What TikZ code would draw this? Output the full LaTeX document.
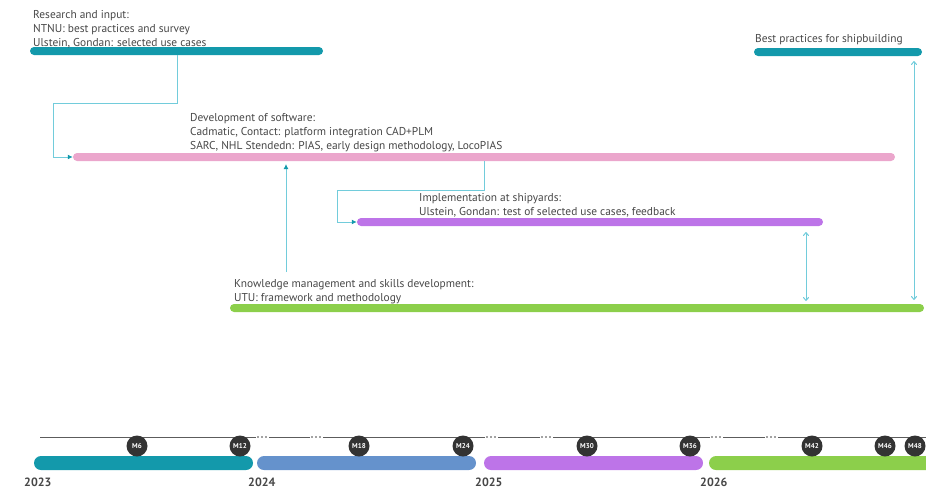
\documentclass[tikz,border=0pt]{standalone}
\usepackage{fontspec}
\setmainfont{PT Sans}
\usetikzlibrary{arrows.meta}
\definecolor{cteal}{HTML}{1399AB}
\definecolor{cpink}{HTML}{EBA6CC}
\definecolor{cpurple}{HTML}{BD74E8}
\definecolor{cgreen}{HTML}{8CCF4B}
\definecolor{cblue}{HTML}{6592CC}
\definecolor{cline}{HTML}{72CCDB}
\definecolor{ctext}{HTML}{474747}
\definecolor{cdot}{HTML}{333333}
\tikzset{
  bar/.style={draw=none, inner sep=0pt, rounded corners=4pt, minimum height=8pt},
  bigbar/.style={draw=none, inner sep=0pt, rounded corners=7pt, minimum height=14pt, minimum width=219pt},
  lbl/.style={anchor=base west, align=left, inner sep=0pt, text=ctext, font=\fontsize{11.4}{13.6}\selectfont},
  yr/.style={anchor=base west, inner sep=0pt, text=ctext, font=\fontsize{12}{14}\selectfont\bfseries},
  conn/.style={draw=cline, line width=1pt, -{Latex[length=5pt,width=5pt,color=cteal]}},
  dbl/.style={draw=cline, line width=1pt, {To[length=4pt,width=6pt]}-{To[length=4pt,width=6pt]}},
  mile/.style={circle, fill=cdot, minimum size=21pt, inner sep=0pt, text=white, font=\fontsize{7}{7}\selectfont\bfseries}
}
\begin{document}
\begin{tikzpicture}[x=1pt,y=-1pt]
\useasboundingbox (0,0) rectangle (926,488);
\clip (0,0) rectangle (926,488);
% upper bars
\node[bar, fill=cteal, minimum width=293pt] (research) at (176.5,51) {};
\node[bar, fill=cteal, minimum width=168pt] (best) at (838,52) {};
\node[bar, fill=cpink, minimum width=822pt] (dev) at (484,157) {};
\node[bar, fill=cpurple, minimum width=466pt] (impl) at (590,222) {};
\node[bar, fill=cgreen, minimum width=694pt] (know) at (577,308) {};
% labels (anchor = baseline of last line)
\node[lbl] (tresearch) at (33,46) {Research and input:\\NTNU: best practices and survey\\Ulstein, Gondan: selected use cases};
\node[lbl] (tbest) at (755,42) {Best practices for shipbuilding};
\node[lbl] (tdev) at (190,149) {Development of software:\\Cadmatic, Contact: platform integration CAD+PLM\\SARC, NHL Stendedn: PIAS, early design methodology, LocoPIAS};
\node[lbl] (timpl) at (419,215) {Implementation at shipyards:\\Ulstein, Gondan: test of selected use cases, feedback};
\node[lbl] (tknow) at (234,301) {Knowledge management and skills development:\\UTU: framework and methodology};
% connectors
\coordinate (r1) at (177,55);
\coordinate (r2) at (53,103.5);
\draw[conn] (r1) |- (r2) |- (dev.west);
\coordinate (d1) at (484,161);
\coordinate (d2) at (337,190.5);
\draw[conn] (d1) |- (d2) |- (impl.west);
\coordinate (k1) at (286,272);
\coordinate (k2) at (286,164);
\draw[conn] (k1) -- (k2);
\coordinate (a1) at (806,232);
\coordinate (a2) at (806,301);
\draw[dbl] (a1) -- (a2);
\coordinate (b1) at (914,61);
\coordinate (b2) at (914,300);
\draw[dbl] (b1) -- (b2);
% timeline
\coordinate (t0) at (40,437);
\coordinate (t1) at (926,437);
\draw[cdot!80, line width=0.8pt] (t0) -- (t1);
\foreach \xa in {256,310,485,540,710,765} {
  \fill[white] (\xa,435.5) rectangle (\xa+13,438.5);
  \foreach \k in {1,5,9} \fill[cdot!45] (\xa+\k,436.4) rectangle (\xa+\k+2,437.6);
}
% bottom bars
\node[bigbar, fill=cteal] (y1) at (143.5,463) {};
\node[bigbar, fill=cblue] (y2) at (366.5,463) {};
\node[bigbar, fill=cpurple] (y3) at (593.5,463) {};
\node[bigbar, fill=cgreen, minimum width=240pt] (y4) at (829,463) {};
% milestones
\node[mile] (m6) at (137,446) {M6};
\node[mile] (m12) at (240,446) {M12};
\node[mile] (m18) at (359,446) {M18};
\node[mile] (m24) at (463,446) {M24};
\node[mile] (m30) at (587,446) {M30};
\node[mile] (m36) at (690,446) {M36};
\node[mile] (m42) at (812,446) {M42};
\node[mile] (m46) at (885,446) {M46};
\node[mile] (m48) at (915,446) {M48};
% years
\node[yr] (y2023) at (24,486) {2023};
\node[yr] (y2024) at (248,486) {2024};
\node[yr] (y2025) at (475,486) {2025};
\node[yr] (y2026) at (700,486) {2026};
\end{tikzpicture}
\end{document}
